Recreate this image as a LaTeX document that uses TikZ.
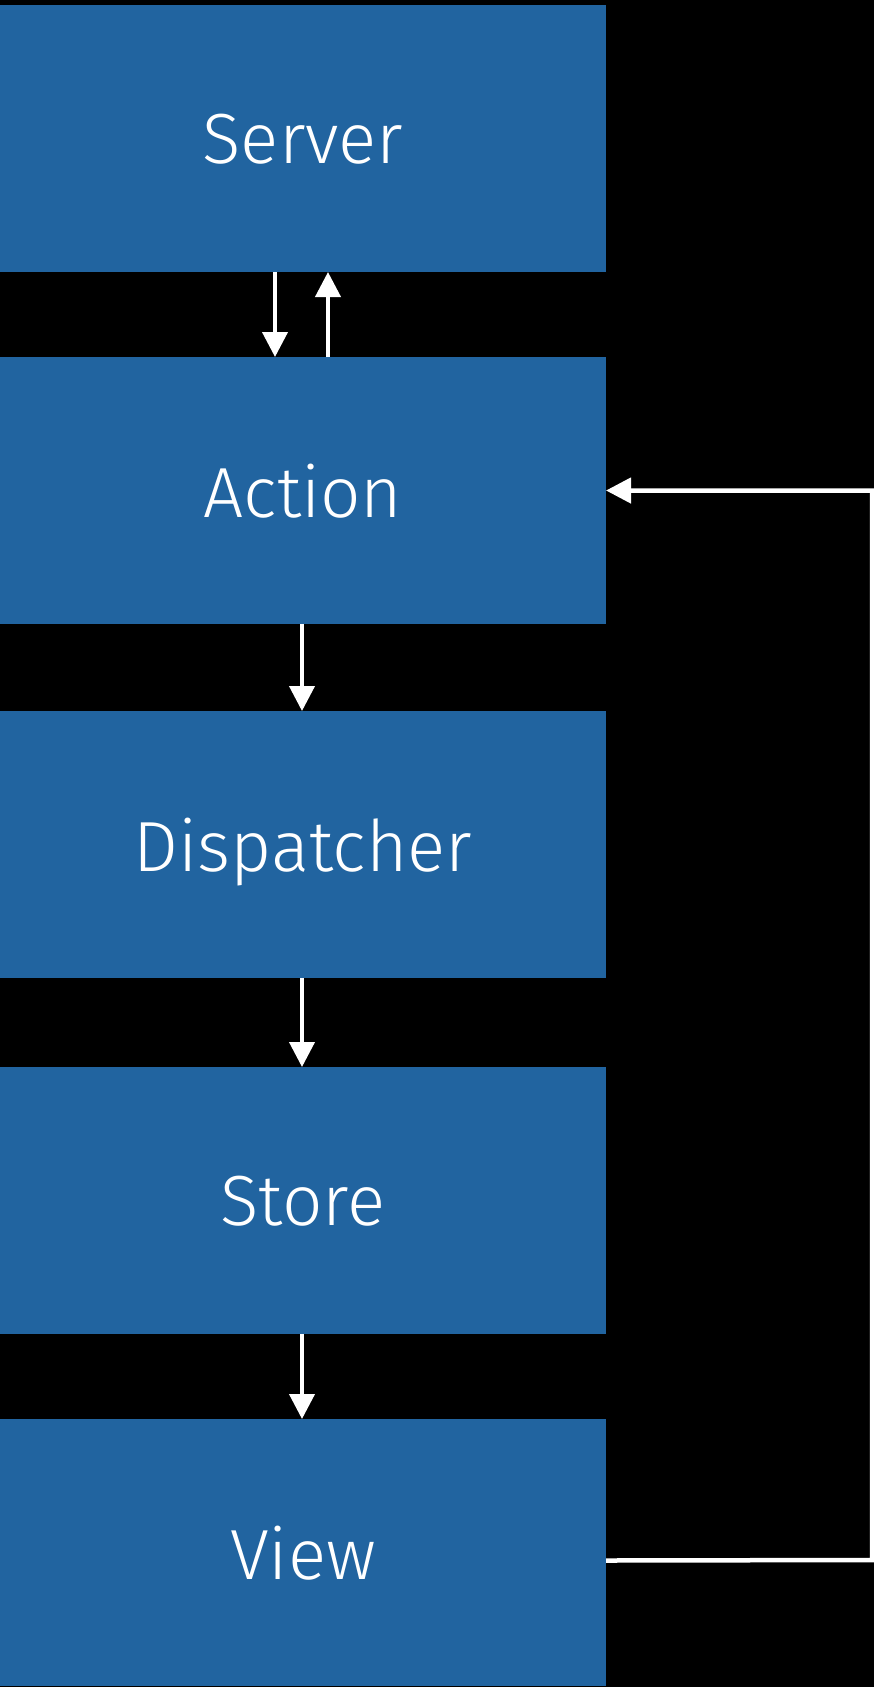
\documentclass[tikz,border=0pt]{standalone}
\usepackage{fontspec}
\setmainfont{Fira Sans Light}
\usepackage{xcolor}
\usetikzlibrary{arrows.meta}
\definecolor{boxblue}{RGB}{33,100,160}
\tikzset{
  layer/.style = { rectangle, fill=boxblue, draw=none, anchor=north west,
                   minimum width=606pt, minimum height=267pt, inner sep=0pt, outer sep=0pt,
                   text depth=0pt, text=white, font=\fontsize{71}{82}\selectfont },
  flow/.style  = { white, line width=4pt, -{Triangle[width=25pt,length=25pt]} },
  back/.style  = { white, line width=4.5pt, -{Triangle[width=25pt,length=25pt]} }
}
\begin{document}
\begin{tikzpicture}[x=1pt,y=-1pt]
  \fill[black] (0,0) rectangle (874,1687);
  \useasboundingbox (0,0) rectangle (874,1687);
  % Draw all layers
  \node[layer] (server)     at (0,5)    {Server};
  \node[layer] (action)     at (0,357)  {Action};
  \node[layer] (dispatcher) at (0,711)  {Dispatcher};
  \node[layer] (store)      at (0,1067) {Store};
  \node[layer] (view)       at (0,1419) {View};
  % Draw arrows
  \draw[flow] ([xshift=-28pt]server.south) -- ([xshift=-28pt]action.north);
  \draw[flow] ([xshift=25pt]action.north) -- ([xshift=25pt]server.south);
  \draw[flow] ([xshift=-1pt]action.south) -- ([xshift=-1pt]dispatcher.north);
  \draw[flow] ([xshift=-1pt]dispatcher.south) -- ([xshift=-1pt]store.north);
  \draw[flow] ([xshift=-1pt]store.south) -- ([xshift=-1pt]view.north);
  % Draw feedback loop
  \coordinate (corner) at (872,1560);
  \draw[back] ([yshift=-8pt]view.east) -- (corner) |- (action.east);
\end{tikzpicture}
\end{document}
